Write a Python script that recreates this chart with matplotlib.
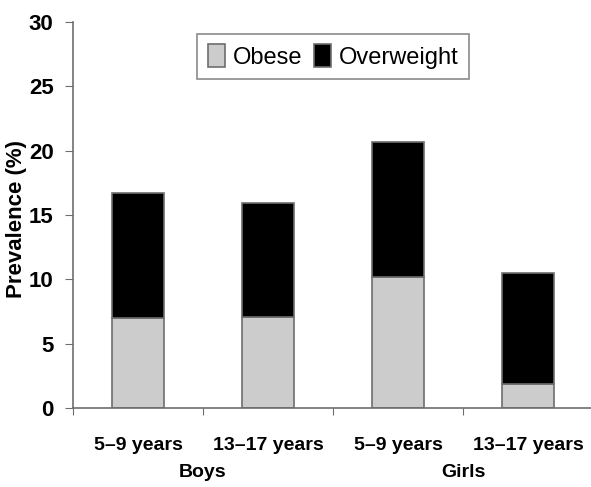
import matplotlib
matplotlib.use("Agg")
import matplotlib.pyplot as plt
import numpy as np

groups = ["Boys", "Girls"]
age_labels = ["5–9 years", "13–17 years", "5–9 years", "13–17 years"]
obese = [7.0, 7.1, 10.2, 1.9]
overweight = [9.7, 8.8, 10.5, 8.6]

plt.rcParams["font.family"] = ["Liberation Sans", "DejaVu Sans"]

fig = plt.figure(figsize=(5.91, 4.87), dpi=100)
ax = fig.add_axes([73 / 591, 1 - 408 / 487, 520 / 591, 386 / 487])

x = np.arange(len(age_labels))
edge = "#6e6e6e"
ax.bar(x, obese, width=0.4, color="#cccccc", edgecolor=edge, linewidth=1.2, label="Obese")
ax.bar(x, overweight, width=0.4, bottom=obese, color="black", edgecolor=edge,
       linewidth=1.2, label="Overweight")

ax.set_xlim(-0.5, 3.5)
ax.set_ylim(0, 30)
ax.set_yticks(np.arange(0, 31, 5))
ax.set_xticks(np.arange(-0.5, 3.6, 1.0))
ax.set_xticklabels([])
ax.tick_params(axis="x", length=5, color=edge, direction="out")
ax.tick_params(axis="y", length=6, color=edge, direction="out", labelsize=16, pad=8)
for lbl in ax.get_yticklabels():
    lbl.set_fontweight("bold")

for s in ("top", "right"):
    ax.spines[s].set_visible(False)
for s in ("left", "bottom"):
    ax.spines[s].set_color(edge)
    ax.spines[s].set_linewidth(1.2)

for xi, lab in zip(x, age_labels):
    ax.text(xi, -2.9, lab, ha="center", va="center", fontsize=14, fontweight="bold",
            clip_on=False)
for gi, g in enumerate(groups):
    ax.text(gi * 2 + 0.5, -5.0, g, ha="center", va="center", fontsize=14,
            fontweight="bold", clip_on=False)

ax.set_ylabel("Prevalence (%)", fontsize=16, fontweight="bold", va="center")
ax.yaxis.set_label_coords(-(73 - 17) / 520, 0.49)

leg = ax.legend(loc="upper center", bbox_to_anchor=(0.5, 1.0), ncol=2, fontsize=17,
                frameon=True, fancybox=False, handlelength=0.75, handleheight=1.1,
                handletextpad=0.3, columnspacing=0.5, borderpad=0.45)
leg.get_frame().set_edgecolor(edge)
leg.get_frame().set_linewidth(1.2)

fig.savefig("out.png", dpi=100)
